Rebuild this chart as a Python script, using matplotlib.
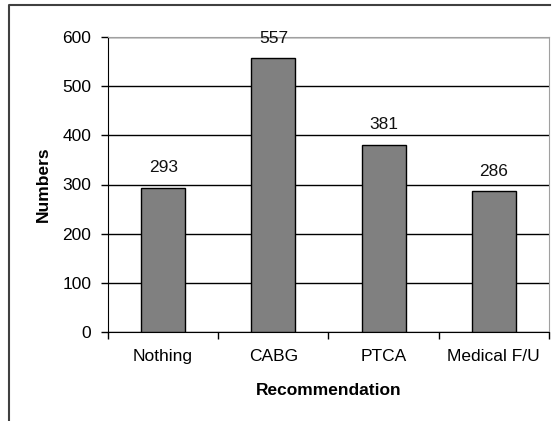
import matplotlib.pyplot as plt
from matplotlib.lines import Line2D

categories = ['Nothing', 'CABG', 'PTCA', 'Medical F/U']
numbers = [293, 557, 381, 286]
y_ticks = [0, 100, 200, 300, 400, 500, 600]

plt.rcParams['font.family'] = ['Liberation Sans', 'DejaVu Sans']

fig = plt.figure(figsize=(5.59, 4.21), dpi=100)
ax = fig.add_axes([108 / 559, 1 - 332 / 421, 441 / 559, 295 / 421])

x = list(range(len(categories)))
bars = ax.bar(x, numbers, width=0.4, color='#808080', edgecolor='black',
              linewidth=1, zorder=3)
for b, v in zip(bars, numbers):
    ax.annotate(str(v), (b.get_x() + b.get_width() / 2, v), xytext=(0, 9),
                textcoords='offset points', ha='center', va='bottom',
                fontsize=12.5, color='#111111', zorder=4)

ax.set_xlim(-0.5, len(categories) - 0.5)
ax.set_ylim(0, 600)
ax.set_yticks(y_ticks)
ax.yaxis.grid(True, color='black', linewidth=1, zorder=1)
ax.set_xticks(x)
ax.set_xticklabels(categories)
ax.set_xticks([i - 0.5 for i in range(len(categories) + 1)], minor=True)
ax.tick_params(axis='x', which='major', length=0, labelsize=12.5, pad=12)
ax.tick_params(axis='x', which='minor', length=5, width=1)
ax.tick_params(axis='y', length=5, width=1, labelsize=12.5, pad=7)

for side in ['top', 'right']:
    ax.spines[side].set_color('#a0a0a0')
for side in ['left', 'bottom']:
    ax.spines[side].set_color('black')

ax.set_xlabel('Recommendation', fontsize=12.5, fontweight='bold', labelpad=14)
ax.set_ylabel('Numbers', fontsize=12.5, fontweight='bold', labelpad=8)

# chart area border (cropped on the right and bottom)
fig.add_artist(Line2D([9 / 559, 9 / 559, 550 / 559], [0, 1 - 5 / 421, 1 - 5 / 421],
                      transform=fig.transFigure, color='#404040', linewidth=1.5))

fig.savefig('out.png', dpi=100)
